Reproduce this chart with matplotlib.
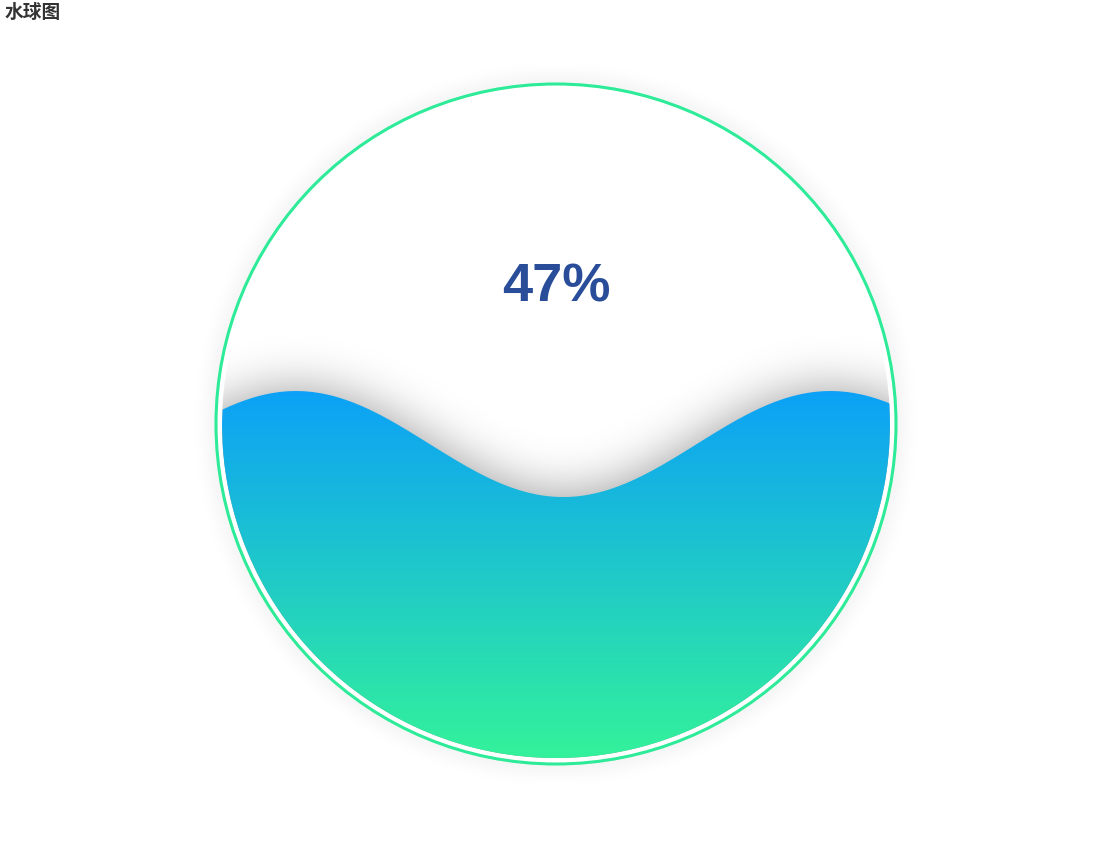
import numpy as np
import matplotlib.pyplot as plt
from matplotlib.patches import Circle, Polygon

W, H = 1112, 849

title = "水球图"
values = [0.47]
fill_top_color = (12, 161, 247)
fill_bottom_color = (51, 242, 154)
border_color = "#2DEB98"
label_color = "#294D99"

# geometry (pixels)
cx, cy = 556, 424
r_out, r_in = 340, 334
amplitude = 53
wave_length = 0.8 * 2 * r_in
crest_x = 296


def gaussian_blur(a, sigma):
    n = int(3 * sigma)
    k = np.exp(-0.5 * (np.arange(-n, n + 1) / sigma) ** 2)
    k /= k.sum()
    a = np.apply_along_axis(lambda c: np.convolve(c, k, mode="same"), 0, a)
    a = np.apply_along_axis(lambda r: np.convolve(r, k, mode="same"), 1, a)
    return a


value = values[0]
level = cy + r_in - value * 2 * r_in


def wave(x):
    return level - amplitude * np.cos(2 * np.pi * (x - crest_x) / wave_length)


fig = plt.figure(figsize=(W / 100, H / 100), dpi=100)
ax = fig.add_axes([0, 0, 1, 1])
ax.set_xlim(0, W)
ax.set_ylim(H, 0)
ax.axis("off")

yy, xx = np.mgrid[0:H, 0:W] + 0.5
dist = np.hypot(xx - cx, yy - cy)

# soft shadow of the outline
ring = (np.abs(dist - r_out) < 1.5).astype(float)
glow = gaussian_blur(ring, 10) * 0.25 * 1.3
glow[dist < r_out] = 0
img = np.zeros((H, W, 4))
img[..., 3] = np.clip(glow, 0, 1)
ax.imshow(img, extent=(0, W, H, 0), zorder=1, interpolation="bilinear")

# shadow of the wave, inside the ball
mask = (yy >= wave(xx)).astype(float)
shadow = gaussian_blur(mask, 25) * 0.4
img = np.zeros((H, W, 4))
img[..., 3] = shadow
im = ax.imshow(img, extent=(0, W, H, 0), zorder=2, interpolation="bilinear")
im.set_clip_path(Circle((cx, cy), r_in, transform=ax.transData))

# the liquid with vertical gradient
xs = np.linspace(cx - r_in, cx + r_in, 1200)
half = np.sqrt(np.clip(r_in**2 - (xs - cx) ** 2, 0, None))
top = np.maximum(wave(xs), cy - half)
bottom = cy + half
verts = np.vstack([np.column_stack([xs, top]), np.column_stack([xs[::-1], bottom[::-1]])])
liquid = Polygon(verts, closed=True, transform=ax.transData)

y0, y1 = level - amplitude, cy + r_in
t = np.clip((yy - y0) / (y1 - y0), 0, 1)[..., None]
c0 = np.array(fill_top_color) / 255
c1 = np.array(fill_bottom_color) / 255
grad = np.concatenate([c0 * (1 - t) + c1 * t, np.ones((H, W, 1))], axis=2)
im = ax.imshow(grad, extent=(0, W, H, 0), zorder=3, interpolation="bilinear")
im.set_clip_path(liquid)

# outline
ax.add_patch(Circle((cx, cy), r_out, fill=False, lw=2.2, ec=border_color, zorder=4))

ax.text(cx, 288, f"{round(value * 100)}%", ha="center", va="center",
        fontsize=39, fontweight="bold", color=label_color,
        family="Liberation Sans", zorder=5)

fig.text(5 / W, 1 - 3 / H, title, ha="left", va="top", fontsize=13.5,
         fontweight="bold", color="#333333",
         family=["Noto Sans CJK SC", "DejaVu Sans"])

fig.savefig("out.png", dpi=100)
